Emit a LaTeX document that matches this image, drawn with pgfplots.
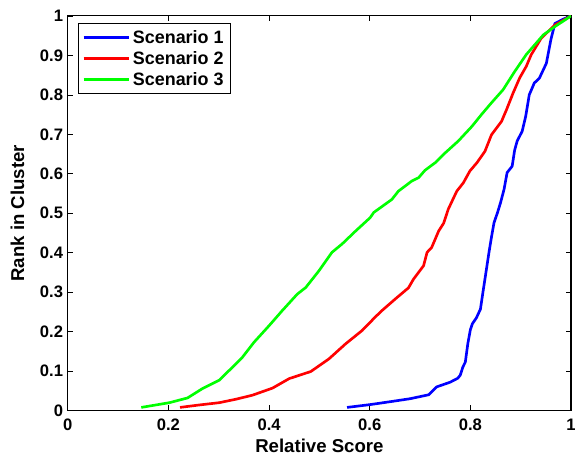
\documentclass[border=0pt]{standalone}
\usepackage{fontspec}
\setmainfont{Liberation Sans}
\usepackage{pgfplots}
\pgfplotsset{compat=1.18}
\usetikzlibrary{calc}
\definecolor{sblue}{RGB}{0,0,255}
\definecolor{sred}{RGB}{255,0,0}
\definecolor{sgreen}{RGB}{0,255,0}
\begin{document}
\begin{tikzpicture}
\begin{axis}[
    scale only axis,
    width=378.75pt, height=297pt,
    xmin=0, xmax=1, ymin=0, ymax=1,
    xtick={0,0.2,0.4,0.6,0.8,1},
    ytick={0,0.1,0.2,0.3,0.4,0.5,0.6,0.7,0.8,0.9,1},
    tick align=inside,
    major tick length=4pt,
    tick style={black, line width=0.5pt},
    axis line style={line width=0.8pt},
    /pgf/number format/assume math mode=true,
    tick label style={font=\fontsize{12.5}{14}\selectfont\bfseries},
    xticklabel style={yshift=-3pt},
    xlabel={Relative Score},
    ylabel={Rank in Cluster},
    label style={font=\fontsize{14}{15}\selectfont\bfseries},
    xlabel style={yshift=1pt},
    ylabel style={yshift=5pt},
    legend style={at={(0.02,0.982)}, anchor=north west, draw=black,
        line width=0.6pt, font=\fontsize{13.5}{15}\selectfont\bfseries,
        inner xsep=3pt, inner ysep=3pt, row sep=0.5pt},
    legend cell align=left,
    legend image post style={line width=2pt},
    legend image code/.code={\draw[#1] (0cm,0cm) -- (1.2cm,0cm);},
    every axis plot/.append style={line width=2pt, line join=round},
]
\addplot[sblue] coordinates {
 (0.555,0.008) (0.600,0.015) (0.638,0.022) (0.680,0.030) (0.717,0.040)
 (0.733,0.060) (0.760,0.072) (0.775,0.082) (0.780,0.090) (0.785,0.110)
 (0.790,0.123) (0.795,0.170) (0.800,0.205) (0.804,0.220) (0.812,0.235)
 (0.820,0.257) (0.825,0.300) (0.830,0.342) (0.837,0.401) (0.842,0.440)
 (0.847,0.476) (0.854,0.502) (0.860,0.527) (0.867,0.561) (0.873,0.603)
 (0.883,0.619) (0.888,0.660) (0.893,0.683) (0.903,0.708) (0.910,0.746)
 (0.917,0.800) (0.927,0.830) (0.937,0.842) (0.951,0.880) (0.960,0.940)
 (0.968,0.981) (0.985,0.992) (1.000,1.000)
};
\addlegendentry{Scenario 1}
\addplot[sred] coordinates {
 (0.223,0.008) (0.260,0.014) (0.301,0.020) (0.335,0.029) (0.367,0.039)
 (0.407,0.057) (0.440,0.081) (0.483,0.099) (0.519,0.131) (0.552,0.169)
 (0.585,0.203) (0.611,0.237) (0.624,0.253) (0.651,0.283) (0.677,0.311)
 (0.687,0.333) (0.707,0.367) (0.714,0.401) (0.723,0.413) (0.737,0.455)
 (0.747,0.475) (0.756,0.510) (0.773,0.556) (0.786,0.577) (0.799,0.607)
 (0.813,0.628) (0.829,0.657) (0.842,0.699) (0.862,0.733) (0.872,0.763)
 (0.885,0.805) (0.898,0.843) (0.911,0.872) (0.921,0.902) (0.941,0.944)
 (0.968,0.977) (1.000,1.000)
};
\addlegendentry{Scenario 2}
\addplot[sgreen] coordinates {
 (0.146,0.008) (0.202,0.020) (0.238,0.032) (0.268,0.056) (0.301,0.077)
 (0.321,0.102) (0.347,0.135) (0.370,0.173) (0.400,0.215) (0.426,0.253)
 (0.456,0.295) (0.473,0.312) (0.499,0.354) (0.525,0.401) (0.545,0.422)
 (0.572,0.455) (0.601,0.489) (0.608,0.502) (0.644,0.535) (0.657,0.556)
 (0.684,0.582) (0.697,0.590) (0.710,0.609) (0.730,0.628) (0.750,0.653)
 (0.776,0.683) (0.803,0.720) (0.822,0.750) (0.842,0.780) (0.865,0.813)
 (0.888,0.859) (0.911,0.902) (0.945,0.952) (0.968,0.973) (1.000,1.000)
};
\addlegendentry{Scenario 3}
\end{axis}
\pgfresetboundingbox
\path[use as bounding box] ($(current axis.south west)+(-51pt,-33pt)$) rectangle ($(current axis.north east)+(3pt,12pt)$);
\end{tikzpicture}
\end{document}
